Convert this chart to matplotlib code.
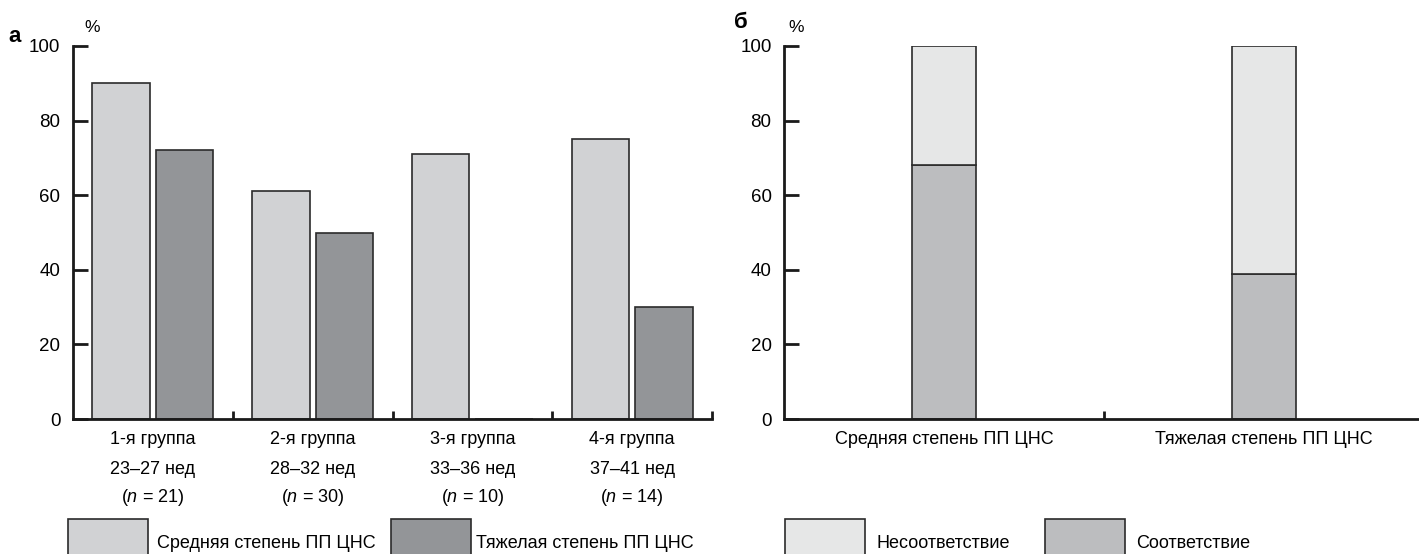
import matplotlib
matplotlib.use("Agg")
import matplotlib.pyplot as plt
from matplotlib.patches import Rectangle
from matplotlib import transforms

plt.rcParams['font.family'] = ['Liberation Sans', 'DejaVu Sans']
plt.rcParams['mathtext.fontset'] = 'custom'
plt.rcParams['mathtext.rm'] = 'Liberation Sans'
plt.rcParams['mathtext.it'] = 'Liberation Sans:italic'

# panel a: share of children by gestational-age group
groups = ['1-я группа', '2-я группа', '3-я группа', '4-я группа']
weeks = ['23–27 нед', '28–32 нед', '33–36 нед', '37–41 нед']
n_sizes = [21, 30, 10, 14]
moderate = [90, 61, 71, 75]
severe = [72, 50, 0, 30]

# panel b: agreement by severity
severity = ['Средняя степень ПП ЦНС', 'Тяжелая степень ПП ЦНС']
match = [68, 39]
mismatch = [32, 61]

C_MOD = '#d1d2d4'
C_SEV = '#939598'
C_MISMATCH = '#e6e7e7'
C_MATCH = '#bcbdbf'
EDGE = '#2b2b2b'

W, H = 1419, 554
fig = plt.figure(figsize=(W / 100, H / 100), dpi=100)


def fx(x):
    return x / W


def fy(y):
    return 1 - y / H


FS = 13
SPINE = 2.0


def style_axes(ax, xticks):
    for s in ('top', 'right'):
        ax.spines[s].set_visible(False)
    for s in ('left', 'bottom'):
        ax.spines[s].set_linewidth(SPINE)
        ax.spines[s].set_color('#1a1a1a')
    ax.set_ylim(0, 100)
    ax.set_yticks([0, 20, 40, 60, 80, 100])
    ax.tick_params(axis='y', direction='in', length=11, width=SPINE,
                   labelsize=13.5, pad=9, color='#1a1a1a')
    ax.set_xticks(xticks)
    ax.set_xticklabels([])
    ax.tick_params(axis='x', direction='in', length=6, width=SPINE, color='#1a1a1a')
    ax.patch.set_visible(False)


# ---- panel a ----
ax1 = fig.add_axes([fx(73), fy(419), fx(712 - 73), (419 - 46) / H])
style_axes(ax1, [1, 2, 3, 4])
ax1.set_xlim(0, 4)
centers = [i + 0.5 for i in range(len(groups))]
bw = 0.36
ax1.bar([c - 0.199 for c in centers], moderate, width=bw, color=C_MOD,
        edgecolor=EDGE, linewidth=1.2, clip_on=False)
ax1.bar([c + 0.199 for c in centers], severe, width=bw, color=C_SEV,
        edgecolor=EDGE, linewidth=1.2, clip_on=False)

tr1 = transforms.blended_transform_factory(ax1.transData, fig.transFigure)
for c, g, w, n in zip(centers, groups, weeks, n_sizes):
    ax1.text(c, fy(440), g, transform=tr1, ha='center', va='center', fontsize=FS)
    ax1.text(c, fy(469), w, transform=tr1, ha='center', va='center', fontsize=FS)
    ax1.text(c, fy(497), '(' + r'$\mathit{n}$' + f' = {n})', transform=tr1,
             ha='center', va='center', fontsize=FS)

fig.text(fx(8), fy(36), 'а', fontsize=16, fontweight='bold', va='center')
fig.text(fx(84), fy(28), '%', fontsize=12.5, va='center')

# ---- panel b ----
ax2 = fig.add_axes([fx(784), fy(419), fx(W - 784), (419 - 46) / H])
style_axes(ax2, [1])
ax2.set_xlim(0, (W - 784) / 320)
pos = [0.5, 1.5]
ax2.bar(pos, match, width=0.2, color=C_MATCH, edgecolor=EDGE, linewidth=1.2)
ax2.bar(pos, mismatch, width=0.2, bottom=match, color=C_MISMATCH,
        edgecolor=EDGE, linewidth=1.2)

tr2 = transforms.blended_transform_factory(ax2.transData, fig.transFigure)
for p, s in zip(pos, severity):
    ax2.text(p, fy(440), s, transform=tr2, ha='center', va='center', fontsize=FS)

fig.text(fx(734), fy(22), 'б', fontsize=16, fontweight='bold', va='center')
fig.text(fx(788), fy(28), '%', fontsize=12.5, va='center')

# ---- legends (boxes run off the bottom edge) ----
legend_items = [
    (68, C_MOD, 157, 'Средняя степень ПП ЦНС'),
    (391, C_SEV, 476, 'Тяжелая степень ПП ЦНС'),
    (785, C_MISMATCH, 876, 'Несоответствие'),
    (1045, C_MATCH, 1136, 'Соответствие'),
]
for x0, col, tx, label in legend_items:
    fig.patches.append(Rectangle((fx(x0), fy(560)), fx(80), (560 - 519) / H,
                                 transform=fig.transFigure, facecolor=col,
                                 edgecolor=EDGE, linewidth=1.2))
    fig.text(fx(tx), fy(543), label, fontsize=FS, va='center')

fig.savefig('out.png', dpi=100)
